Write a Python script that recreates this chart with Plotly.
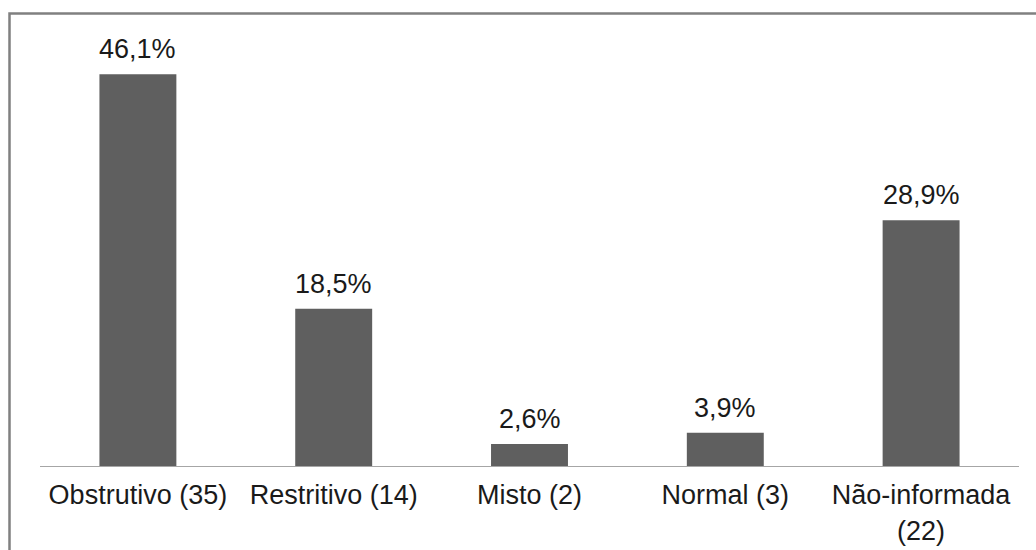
import plotly.graph_objects as go

categories = ["Obstrutivo", "Restritivo", "Misto", "Normal", "Não-informada"]
counts = [35, 14, 2, 3, 22]
percent = [46.1, 18.5, 2.6, 3.9, 28.9]
tick_labels = ["Obstrutivo (35)", "Restritivo (14)", "Misto (2)", "Normal (3)", "Não-informada<br>(22)"]

FONT = "Liberation Sans, Arial, sans-serif"
FS = 27
W, H = 1036, 550
L, R, T, B = 40, 17, 41, 84

fig = go.Figure()
fig.add_trace(go.Bar(
    x=tick_labels, y=percent,
    marker=dict(color="#5f5f5f", line=dict(width=0)),
    hoverinfo="skip",
))

for xl, v in zip(tick_labels, percent):
    fig.add_annotation(
        x=xl, y=v, xref="x", yref="y",
        text=f"{v:.1f}".replace(".", ",") + "%",
        showarrow=False, yanchor="bottom", yshift=8,
        font=dict(family=FONT, size=FS, color="#1a1a1a"),
    )

pw = W - L - R
ph = H - T - B
fig.add_shape(
    type="rect", xref="paper", yref="paper",
    x0=(9.5 - L) / pw, x1=(W + 20 - L) / pw,
    y0=-(H + 20 - (H - B)) / ph, y1=((H - B) - 13.5) / ph,
    line=dict(color="#808080", width=2.5), fillcolor="rgba(0,0,0,0)",
    layer="above",
)

fig.update_layout(
    width=W, height=H,
    margin=dict(l=L, r=R, t=T, b=B, autoexpand=False),
    paper_bgcolor="white", plot_bgcolor="white",
    bargap=0.607,
    showlegend=False,
    font=dict(family=FONT, size=FS, color="#1a1a1a"),
    xaxis=dict(
        automargin=False,
        showline=True, linecolor="#a6a6a6", linewidth=1,
        ticks="outside", ticklen=5, tickcolor="rgba(0,0,0,0)",
        tickfont=dict(family=FONT, size=FS, color="#1a1a1a"),
        showgrid=False, zeroline=False,
    ),
    yaxis=dict(
        automargin=False,
        range=[0, 50], visible=False, showgrid=False, zeroline=False,
    ),
)

fig.write_html("out.html")
